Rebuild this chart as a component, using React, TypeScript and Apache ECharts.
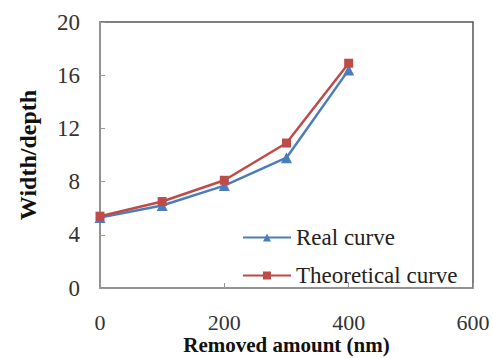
import React, { useEffect, useRef } from "react";
import * as echarts from "echarts";

const xValues = [0, 100, 200, 300, 400];
const realCurve = [5.3, 6.2, 7.7, 9.8, 16.4];
const theoreticalCurve = [5.4, 6.5, 8.1, 10.9, 16.9];
const seriesNames = ["Real curve", "Theoretical curve"];
const xAxisTitle = "Removed amount (nm)";
const yAxisTitle = "Width/depth";

const FONT = "'Liberation Serif', 'Times New Roman', Times, serif";

export default function App() {
  const ref = useRef<HTMLDivElement>(null);
  useEffect(() => {
    if (!ref.current) return;
    const chart = echarts.init(ref.current, null, { renderer: "svg" });
    chart.setOption({
      animation: false,
      textStyle: { fontFamily: FONT },
      grid: {
        left: 100,
        top: 22,
        right: 20,
        bottom: 70,
        containLabel: false,
        outerBoundsMode: "none",
        show: true,
        borderColor: "#555",
        borderWidth: 1.5,
        backgroundColor: "transparent",
      },
      legend: {
        orient: "vertical",
        left: 242,
        top: 226,
        padding: 0,
        itemWidth: 48,
        itemHeight: 10,
        itemGap: 15,
        textStyle: { fontFamily: FONT, fontSize: 23, color: "#222" },
        data: seriesNames,
      },
      xAxis: {
        type: "value",
        min: 0,
        max: 600,
        interval: 200,
        name: xAxisTitle,
        nameLocation: "middle",
        nameGap: 46,
        nameMoveOverlap: false,
        nameTextStyle: { fontFamily: FONT, fontSize: 21, fontWeight: "bold", color: "#111", lineHeight: 21 },
        axisLine: { show: true, lineStyle: { color: "#999", width: 1.5 } },
        axisTick: { show: true, inside: true, length: 5, lineStyle: { color: "#999" } },
        splitLine: { show: false },
        axisLabel: { fontFamily: FONT, fontSize: 22, color: "#333", margin: 23, lineHeight: 22 },
      },
      yAxis: {
        type: "value",
        min: 0,
        max: 20,
        interval: 4,
        name: yAxisTitle,
        nameLocation: "middle",
        nameGap: 60,
        nameMoveOverlap: false,
        nameRotate: 90,
        nameTextStyle: { fontFamily: FONT, fontSize: 24, fontWeight: "bold", color: "#111" },
        axisLine: { show: true, lineStyle: { color: "#999", width: 1.5 } },
        axisTick: { show: true, inside: true, length: 5, lineStyle: { color: "#999" } },
        splitLine: { show: false },
        axisLabel: { fontFamily: FONT, fontSize: 23, color: "#333", margin: 20 },
      },
      series: [
        {
          name: seriesNames[0],
          type: "line",
          data: xValues.map((x, i) => [x, realCurve[i]]),
          symbol: "triangle",
          symbolSize: 11,
          lineStyle: { color: "#4a7ebb", width: 2.5 },
          itemStyle: { color: "#4a7ebb" },
          z: 2,
        },
        {
          name: seriesNames[1],
          type: "line",
          data: xValues.map((x, i) => [x, theoreticalCurve[i]]),
          symbol: "rect",
          symbolSize: 9,
          lineStyle: { color: "#be4b48", width: 2.5 },
          itemStyle: { color: "#be4b48" },
          z: 3,
        },
      ],
    });
    return () => chart.dispose();
  }, []);
  return <div ref={ref} style={{ width: 493, height: 358, position: "absolute", left: 0, top: 0 }} />;
}
